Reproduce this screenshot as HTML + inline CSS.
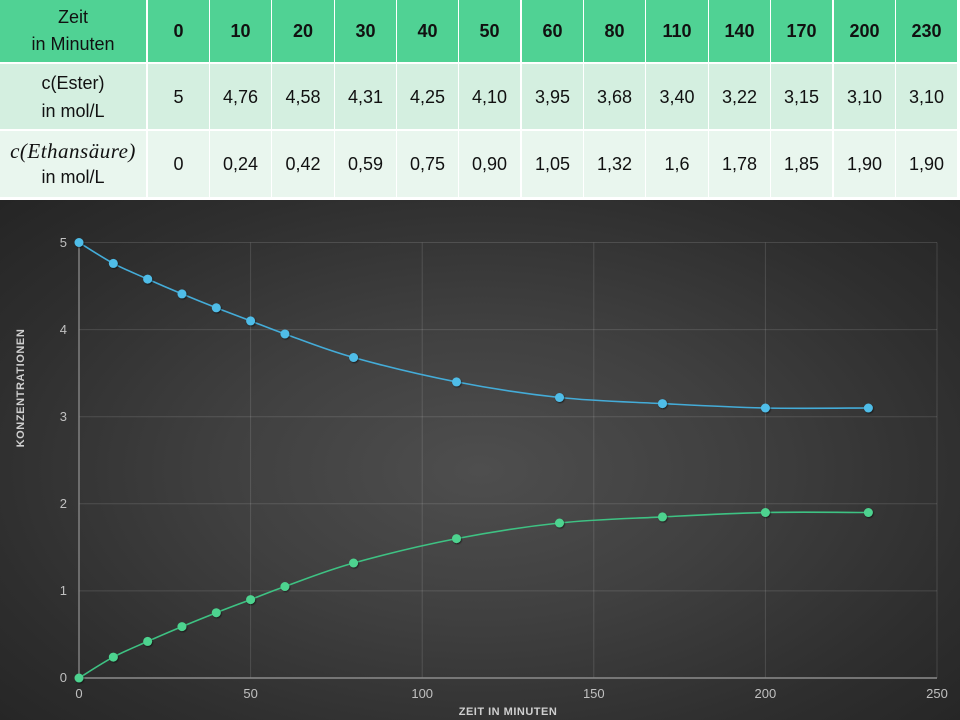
<!DOCTYPE html>
<html><head><meta charset="utf-8">
<style>
html,body{margin:0;padding:0;background:#fff;}
body{width:960px;height:720px;position:relative;overflow:hidden;font-family:"Liberation Sans",sans-serif;}
.c{position:absolute;display:flex;align-items:center;justify-content:center;text-align:center;color:#111;font-size:18px;line-height:26px;}
.h{background:#50d294;font-weight:bold;}
.hl{background:#50d294;font-weight:normal;line-height:27px;}
.r1{background:#d4efe0;}
.r2{background:#e9f6ee;}
.chart{position:absolute;left:0;top:200px;width:960px;height:520px;
background:radial-gradient(ellipse 75% 80% at 50% 52%,#4e4e4e 0%,#404040 35%,#2e2e2e 70%,#222 100%);}
svg{position:absolute;left:0;top:0;}
</style></head><body>

<!-- header row -->
<div class="c hl" style="left:0;top:0;width:146px;height:62px;">Zeit<br>in Minuten</div>
<div class="c h" style="left:148px;top:0;width:61px;height:62px;">0</div>
<div class="c h" style="left:210px;top:0;width:61px;height:62px;">10</div>
<div class="c h" style="left:272px;top:0;width:62px;height:62px;">20</div>
<div class="c h" style="left:335px;top:0;width:61px;height:62px;">30</div>
<div class="c h" style="left:397px;top:0;width:61px;height:62px;">40</div>
<div class="c h" style="left:459px;top:0;width:61px;height:62px;">50</div>
<div class="c h" style="left:522px;top:0;width:61px;height:62px;">60</div>
<div class="c h" style="left:584px;top:0;width:61px;height:62px;">80</div>
<div class="c h" style="left:646px;top:0;width:62px;height:62px;">110</div>
<div class="c h" style="left:709px;top:0;width:61px;height:62px;">140</div>
<div class="c h" style="left:771px;top:0;width:61px;height:62px;">170</div>
<div class="c h" style="left:834px;top:0;width:61px;height:62px;">200</div>
<div class="c h" style="left:896px;top:0;width:61px;height:62px;">230</div>

<!-- row 2 -->
<div class="c r1" style="left:0;top:64px;width:146px;height:65px;line-height:28px;">c(Ester)<br>in mol/L</div>
<div class="c r1" style="left:148px;top:64px;width:61px;height:65px;">5</div>
<div class="c r1" style="left:210px;top:64px;width:61px;height:65px;">4,76</div>
<div class="c r1" style="left:272px;top:64px;width:62px;height:65px;">4,58</div>
<div class="c r1" style="left:335px;top:64px;width:61px;height:65px;">4,31</div>
<div class="c r1" style="left:397px;top:64px;width:61px;height:65px;">4,25</div>
<div class="c r1" style="left:459px;top:64px;width:61px;height:65px;">4,10</div>
<div class="c r1" style="left:522px;top:64px;width:61px;height:65px;">3,95</div>
<div class="c r1" style="left:584px;top:64px;width:61px;height:65px;">3,68</div>
<div class="c r1" style="left:646px;top:64px;width:62px;height:65px;">3,40</div>
<div class="c r1" style="left:709px;top:64px;width:61px;height:65px;">3,22</div>
<div class="c r1" style="left:771px;top:64px;width:61px;height:65px;">3,15</div>
<div class="c r1" style="left:834px;top:64px;width:61px;height:65px;">3,10</div>
<div class="c r1" style="left:896px;top:64px;width:61px;height:65px;">3,10</div>

<!-- row 3 -->
<div class="c r2" style="left:0;top:131px;width:146px;height:66px;line-height:25px;"><span><span style="font-family:'Liberation Serif',serif;font-style:italic;font-size:21px;letter-spacing:0.5px;">c(Ethansäure)</span><br>in mol/L</span></div>
<div class="c r2" style="left:148px;top:131px;width:61px;height:66px;">0</div>
<div class="c r2" style="left:210px;top:131px;width:61px;height:66px;">0,24</div>
<div class="c r2" style="left:272px;top:131px;width:62px;height:66px;">0,42</div>
<div class="c r2" style="left:335px;top:131px;width:61px;height:66px;">0,59</div>
<div class="c r2" style="left:397px;top:131px;width:61px;height:66px;">0,75</div>
<div class="c r2" style="left:459px;top:131px;width:61px;height:66px;">0,90</div>
<div class="c r2" style="left:522px;top:131px;width:61px;height:66px;">1,05</div>
<div class="c r2" style="left:584px;top:131px;width:61px;height:66px;">1,32</div>
<div class="c r2" style="left:646px;top:131px;width:62px;height:66px;">1,6</div>
<div class="c r2" style="left:709px;top:131px;width:61px;height:66px;">1,78</div>
<div class="c r2" style="left:771px;top:131px;width:61px;height:66px;">1,85</div>
<div class="c r2" style="left:834px;top:131px;width:61px;height:66px;">1,90</div>
<div class="c r2" style="left:896px;top:131px;width:61px;height:66px;">1,90</div>

<div class="chart"></div>

<svg width="960" height="720" viewBox="0 0 960 720" xmlns="http://www.w3.org/2000/svg">
<defs>
<filter id="sh" x="-50%" y="-50%" width="200%" height="200%">
<feDropShadow dx="0.8" dy="1" stdDeviation="0.8" flood-color="#000" flood-opacity="0.6"/>
</filter>
</defs>
<!-- gridlines -->
<g stroke="#ffffff" stroke-opacity="0.13" stroke-width="1" fill="none">
<line x1="79" y1="242.5" x2="937" y2="242.5"/>
<line x1="79" y1="329.6" x2="937" y2="329.6"/>
<line x1="79" y1="416.7" x2="937" y2="416.7"/>
<line x1="79" y1="503.8" x2="937" y2="503.8"/>
<line x1="79" y1="590.9" x2="937" y2="590.9"/>
<line x1="250.6" y1="242.5" x2="250.6" y2="678"/>
<line x1="422.2" y1="242.5" x2="422.2" y2="678"/>
<line x1="593.8" y1="242.5" x2="593.8" y2="678"/>
<line x1="765.4" y1="242.5" x2="765.4" y2="678"/>
<line x1="937" y1="242.5" x2="937" y2="678"/>
</g>
<!-- axes -->
<line x1="79" y1="242" x2="79" y2="678" stroke="#8c8c8c" stroke-width="1.3"/>
<line x1="79" y1="678" x2="937" y2="678" stroke="#8c8c8c" stroke-width="1.6"/>

<!-- y tick labels -->
<g fill="#c0c0c0" font-family="Liberation Sans, sans-serif" font-size="13" text-anchor="end">
<text x="67" y="247">5</text>
<text x="67" y="334">4</text>
<text x="67" y="421">3</text>
<text x="67" y="508">2</text>
<text x="67" y="595">1</text>
<text x="67" y="682">0</text>
</g>
<!-- x tick labels -->
<g fill="#c0c0c0" font-family="Liberation Sans, sans-serif" font-size="13" text-anchor="middle">
<text x="79" y="698">0</text>
<text x="250.6" y="698">50</text>
<text x="422.2" y="698">100</text>
<text x="593.8" y="698">150</text>
<text x="765.4" y="698">200</text>
<text x="937" y="698">250</text>
</g>
<!-- axis titles -->
<text x="508" y="715" fill="#cfcfcf" font-family="Liberation Sans, sans-serif" font-size="11" font-weight="bold" text-anchor="middle" letter-spacing="0.5">ZEIT IN MINUTEN</text>
<text transform="translate(24,388) rotate(-90)" fill="#cfcfcf" font-family="Liberation Sans, sans-serif" font-size="11" font-weight="bold" text-anchor="middle" letter-spacing="0.6">KONZENTRATIONEN</text>

<!-- Ester series -->
<path fill="none" stroke="#44acd8" stroke-width="1.6" d="M79,242.5 C84.72,245.98 101.88,257.3 113.32,263.4 C124.76,269.5 136.2,274.02 147.64,279.1 C159.08,284.18 170.52,289.12 181.96,293.9 C193.4,298.68 204.84,303.3 216.28,307.8 C227.72,312.3 239.16,316.54 250.6,320.9 C262.04,325.26 267.76,327.85 284.92,333.95 C302.08,340.05 324.96,349.51 353.56,357.5 C382.16,365.49 422.2,375.23 456.52,381.9 C490.84,388.57 525.16,393.88 559.48,397.5 C593.8,401.12 628.12,401.85 662.44,403.6 C696.76,405.35 731.08,407.27 765.4,408 C799.72,408.73 851.2,408 868.36,408"/>
<g fill="#50bde8" filter="url(#sh)">
<circle cx="79" cy="242.5" r="4.5"/>
<circle cx="113.32" cy="263.4" r="4.5"/>
<circle cx="147.64" cy="279.1" r="4.5"/>
<circle cx="181.96" cy="293.9" r="4.5"/>
<circle cx="216.28" cy="307.8" r="4.5"/>
<circle cx="250.6" cy="320.9" r="4.5"/>
<circle cx="284.92" cy="333.95" r="4.5"/>
<circle cx="353.56" cy="357.5" r="4.5"/>
<circle cx="456.52" cy="381.9" r="4.5"/>
<circle cx="559.48" cy="397.5" r="4.5"/>
<circle cx="662.44" cy="403.6" r="4.5"/>
<circle cx="765.4" cy="408" r="4.5"/>
<circle cx="868.36" cy="408" r="4.5"/>
</g>

<!-- Ethansäure series -->
<path fill="none" stroke="#3ec283" stroke-width="1.6" d="M79,678 C84.72,674.52 101.88,663.2 113.32,657.1 C124.76,651 136.2,646.48 147.64,641.4 C159.08,636.32 170.52,631.38 181.96,626.6 C193.4,621.82 204.84,617.2 216.28,612.7 C227.72,608.2 239.16,603.97 250.6,599.6 C262.04,595.23 267.76,592.6 284.92,586.5 C302.08,580.4 324.96,570.98 353.56,563 C382.16,555.02 422.2,545.27 456.52,538.6 C490.84,531.93 525.16,526.62 559.48,523 C593.8,519.38 628.12,518.65 662.44,516.9 C696.76,515.15 731.08,513.23 765.4,512.5 C799.72,511.77 851.2,512.5 868.36,512.5"/>
<g fill="#4dd38f" filter="url(#sh)">
<circle cx="79" cy="678" r="4.5"/>
<circle cx="113.32" cy="657.1" r="4.5"/>
<circle cx="147.64" cy="641.4" r="4.5"/>
<circle cx="181.96" cy="626.6" r="4.5"/>
<circle cx="216.28" cy="612.7" r="4.5"/>
<circle cx="250.6" cy="599.6" r="4.5"/>
<circle cx="284.92" cy="586.5" r="4.5"/>
<circle cx="353.56" cy="563" r="4.5"/>
<circle cx="456.52" cy="538.6" r="4.5"/>
<circle cx="559.48" cy="523" r="4.5"/>
<circle cx="662.44" cy="516.9" r="4.5"/>
<circle cx="765.4" cy="512.5" r="4.5"/>
<circle cx="868.36" cy="512.5" r="4.5"/>
</g>
</svg>
</body></html>
